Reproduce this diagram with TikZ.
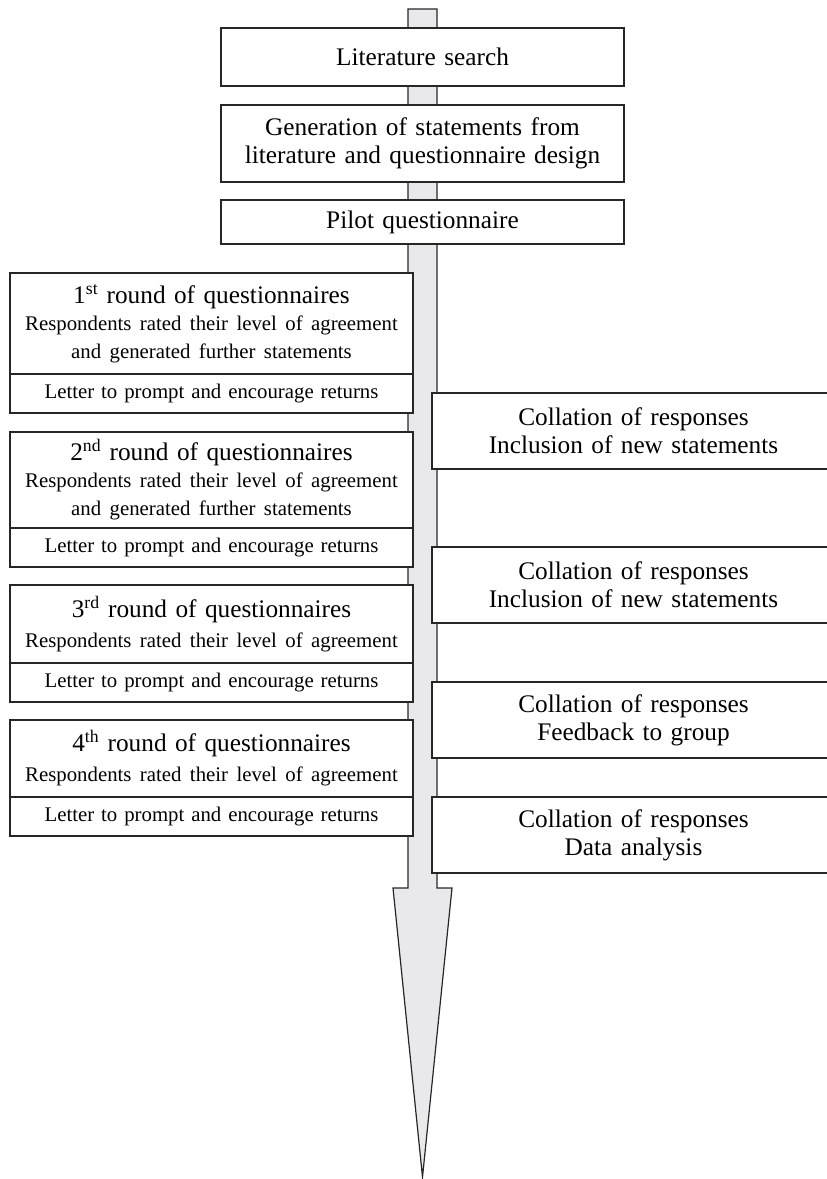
\documentclass[tikz,border=0pt]{standalone}
\usepackage{fontspec}
\setmainfont{Liberation Serif}
\usepackage{tikz}
\definecolor{shaftgray}{RGB}{233,233,236}
\definecolor{linegray}{RGB}{38,38,38}
\newcommand{\bigtxt}{\fontsize{25.3}{28}\selectfont}
\newcommand{\smalltxt}{\fontsize{20.8}{25}\selectfont}
\tikzset{
  stagebox/.style={ draw=linegray, line width=1.2pt, fill=white, inner sep=0pt, text width=403pt, align=center, font=\bigtxt }
}
\tikzset{
  roundbox/.style={ stagebox }
}
\tikzset{
  letterbox/.style={ stagebox, font=\smalltxt }
}
\tikzset{
  collbox/.style={ stagebox }
}
\tikzset{
  shaft/.style={ draw=linegray, line width=1.2pt, fill=shaftgray }
}

\begin{document}
\begin{tikzpicture}[x=1pt, y=-1pt]
  \clip (0, 0) rectangle (827, 1179);
  \draw[shaft] (408, 9) -- (437, 9) -- (437, 888) -- (452, 888) -- (422.5, 1177)
    -- (393, 888) -- (408, 888) -- cycle;

  \node[stagebox, minimum height=58pt] (lit) at (422.5, 57) {Literature search};
  \node[stagebox, minimum height=77pt] (gen) at (422.5, 143.5) {Generation of statements from\\literature and questionnaire design};
  \node[stagebox, minimum height=44pt] (pilot) at (422.5, 222) {Pilot questionnaire};

  \node[roundbox, minimum height=101pt] (r1) at (211.5, 323.5) {1\textsuperscript{st} round of questionnaires\\[2pt]\smalltxt Respondents rated their level of agreement\\and generated further statements};
  \node[letterbox, minimum height=39pt] (l1) at (211.5, 393.5) {Letter to prompt and encourage returns};
  \node[roundbox, minimum height=96pt] (r2) at (211.5, 480) {2\textsuperscript{nd} round of questionnaires\\[2pt]\smalltxt Respondents rated their level of agreement\\and generated further statements};
  \node[letterbox, minimum height=39pt] (l2) at (211.5, 547.5) {Letter to prompt and encourage returns};
  \node[roundbox, minimum height=78pt] (r3) at (211.5, 624) {3\textsuperscript{rd} round of questionnaires\\[2pt]\smalltxt Respondents rated their level of agreement};
  \node[letterbox, minimum height=39pt] (l3) at (211.5, 682.5) {Letter to prompt and encourage returns};
  \node[roundbox, minimum height=77pt] (r4) at (211.5, 758.5) {4\textsuperscript{th} round of questionnaires\\[2pt]\smalltxt Respondents rated their level of agreement};
  \node[letterbox, minimum height=39pt] (l4) at (211.5, 816.5) {Letter to prompt and encourage returns};

  \node[collbox, minimum height=76pt] (c1) at (633.5, 431) {Collation of responses\\Inclusion of new statements};
  \node[collbox, minimum height=76pt] (c2) at (633.5, 585) {Collation of responses\\Inclusion of new statements};
  \node[collbox, minimum height=76pt] (c3) at (633.5, 720) {Collation of responses\\Feedback to group};
  \node[collbox, minimum height=76pt] (c4) at (633.5, 835) {Collation of responses\\Data analysis};
\end{tikzpicture}
\end{document}
